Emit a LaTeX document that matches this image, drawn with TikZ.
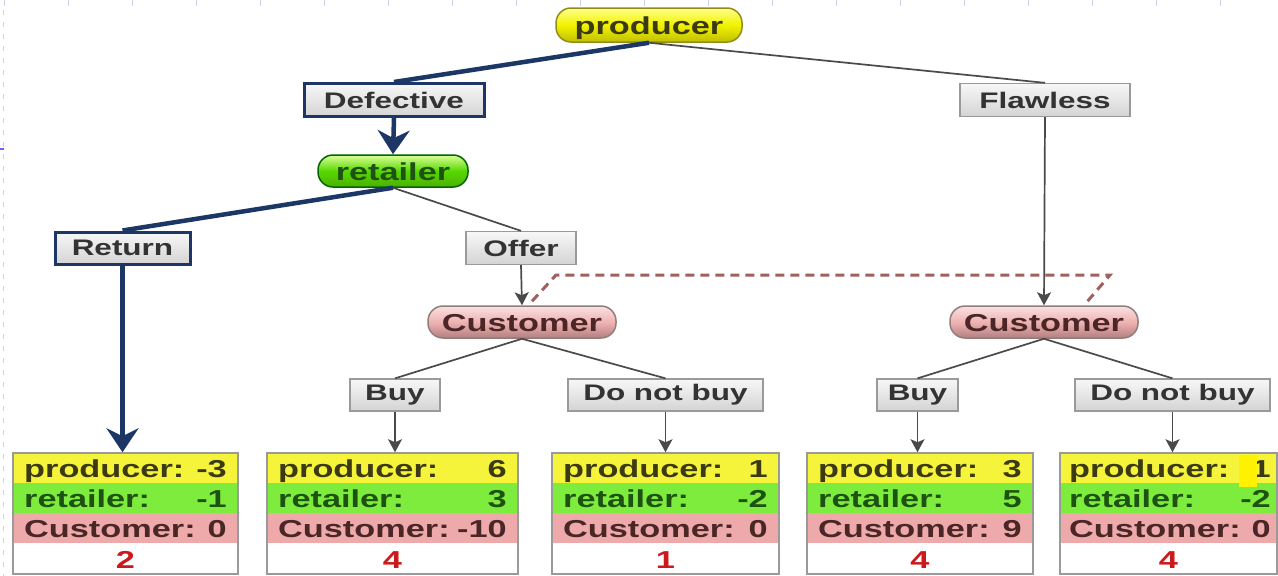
\documentclass[tikz,border=0pt]{standalone}
\usepackage{fontspec}
\setmainfont{Liberation Sans}[FakeStretch=1.4]
\usetikzlibrary{arrows.meta,calc}

\definecolor{navy}{HTML}{1C3766}
\definecolor{edgegray}{HTML}{4A4A4A}
\definecolor{boxline}{HTML}{9A9A9A}
\definecolor{prodrowc}{HTML}{F6F43A}
\definecolor{retrowc}{HTML}{7EEC3C}
\definecolor{custrowc}{HTML}{EEAAAA}
\definecolor{infoset}{HTML}{A0605E}
\definecolor{gridblue}{HTML}{C8D4F4}
\definecolor{prodtext}{HTML}{3B3A14}
\definecolor{rettext}{HTML}{1E5212}
\definecolor{custtext}{HTML}{4A2626}
\definecolor{numred}{HTML}{CC1A1A}

\tikzset{
  pill/.style={rectangle, rounded corners=15pt, minimum height=32pt, inner sep=0pt,
    text height=19pt, text depth=0pt,
    line width=1.5pt, font=\fontsize{24.5}{27}\selectfont\bfseries},
  prodpill/.style={pill, draw=black!20!olive!80!yellow, top color=yellow!45!white,
    bottom color=yellow!75!black, middle color=yellow!90!olive, text=prodtext},
  retpill/.style={pill, draw=green!40!black, top color=green!35!yellow!40!white,
    bottom color=green!55!black!70!yellow, middle color=green!60!yellow!85!black, text=rettext},
  custpill/.style={pill, draw=custtext!60!white, top color=custrowc!35!white,
    bottom color=custrowc!75!black, middle color=custrowc!90!white, text=custtext},
  action/.style={rectangle, draw=boxline, line width=1.3pt, top color=black!3,
    bottom color=black!17, minimum height=33pt, inner sep=0pt,
    font=\fontsize{22.5}{25}\selectfont\bfseries, text=black!80},
  chosen/.style={action, draw=navy, line width=3pt},
  thin/.style={draw=edgegray, line width=1.7pt},
  thinarrow/.style={thin, -{Stealth[length=13pt,width=14pt,inset=3pt]}},
  thick/.style={draw=navy, line width=4.5pt},
  thickarrow/.style={thick, -{Stealth[length=24pt,width=32pt,inset=8pt]}},
  leafframe/.style={rectangle, draw=boxline, line width=1.5pt, minimum height=121pt, inner sep=0pt},
  leaftxt/.style={inner sep=0pt, font=\fontsize{24.5}{27}\selectfont\bfseries},
}

% inner margins of the payoff boxes
\def\lmarg{11}
\def\rmarg{11}

% payoff box: name, centre x, width, producer, retailer, customer, weight
\newcommand\leafbox[7]{%
  \pgfmathsetmacro\lx{#2-#3/2}%
  \pgfmathsetmacro\rx{#2+#3/2}%
  \fill[prodrowc] (\lx,453) rectangle (\rx,483);
  \fill[retrowc] (\lx,483) rectangle (\rx,513);
  \fill[custrowc] (\lx,513) rectangle (\rx,543);
  \node[leafframe, minimum width=#3] (#1) at (#2,513.5) {};
  \node[leaftxt, text=prodtext, anchor=base west] at (\lx+\lmarg,477) {producer:};
  \node[leaftxt, text=prodtext, anchor=base east] (#1p) at (\rx-\rmarg,477) {#4};
  \node[leaftxt, text=rettext, anchor=base west] at (\lx+\lmarg,507) {retailer:};
  \node[leaftxt, text=rettext, anchor=base east] (#1r) at (\rx-\rmarg,507) {#5};
  \node[leaftxt, text=custtext, anchor=base west] at (\lx+\lmarg,537) {Customer:};
  \node[leaftxt, text=custtext, anchor=base east] (#1c) at (\rx-\rmarg,537) {#6};
  \node[leaftxt, text=numred, anchor=base] at (#2,568) {#7};
}

\begin{document}
\begin{tikzpicture}[x=1pt, y=-1pt]
  \fill[white] (0,0) rectangle (1278,576);
  \useasboundingbox (0,0) rectangle (1278,576);

  % faint slide grid along the edges
  \draw[gridblue, line width=1pt, dash pattern=on 5pt off 7pt] (3,10) -- (3,576);
  \foreach \gx in {4,68,...,1230} \draw[gridblue, line width=1pt] (\gx,0) -- (\gx,6);
  \draw[blue!60!white, line width=2pt] (0,149) -- (4,149);

  % decision and chance nodes
  \node[prodpill, minimum width=186pt, minimum height=34pt] (producer) at (649,25) {producer};
  \node[chosen, minimum width=180pt] (defective) at (394,100) {Defective};
  \node[action, minimum width=170pt] (flawless) at (1045,100) {Flawless};
  \node[retpill, minimum width=150pt] (retailer) at (393,171) {retailer};
  \node[chosen, minimum width=135pt, minimum height=32pt] (return) at (122.5,248) {Return};
  \node[action, minimum width=110pt] (offer) at (521,248) {Offer};
  \node[custpill, minimum width=188pt] (custL) at (522,322) {Customer};
  \node[custpill, minimum width=188pt] (custR) at (1044,322) {Customer};
  \node[action, minimum width=90pt, minimum height=32pt] (buyL) at (395,395) {Buy};
  \node[action, minimum width=195pt, minimum height=32pt] (nobuyL) at (665.5,395) {Do not buy};
  \node[action, minimum width=81pt, minimum height=32pt] (buyR) at (917.5,395) {Buy};
  \node[action, minimum width=195pt, minimum height=32pt] (nobuyR) at (1172.5,395) {Do not buy};

  % payoff boxes
  \leafbox{leafA}{125.5}{225}{-3}{-1}{0}{2}
  \leafbox{leafB}{392.5}{251}{6}{3}{-10}{4}
  \leafbox{leafC}{665.5}{227}{1}{-2}{0}{1}
  \leafbox{leafD}{920}{226}{3}{5}{9}{4}
  \def\lmarg{9}\def\rmarg{6}
  \leafbox{leafE}{1168.5}{217}{-1}{-2}{0}{4}
  \fill[yellow] ($(leafEp.base west)+(-1,-22)$) rectangle ($(leafEp.base west)+(17,10)$);

  % information set of the customer
  \draw[infoset, line width=3pt, dash pattern=on 9pt off 6pt]
    (custL.north) ++(10,-4) coordinate (isA) -- (556,275) coordinate (isB)
    -- (1110,275) coordinate (isC) -- (1086,303) coordinate (isD);

  % chosen path
  \draw[thick] (producer.south) -- (defective.north);
  \draw[thickarrow] (defective.south) -- (retailer.north);
  \draw[thick] (retailer.south) -- (return.north);
  \draw[thickarrow] (return.south) -- (return.south |- leafA.north);

  % remaining moves
  \draw[thin] (producer.south) -- (flawless.north);
  \draw[thin] (retailer.south) -- (offer.north);
  \draw[thinarrow] (offer.south) -- (custL.north);
  \draw[thinarrow] (flawless.south) -- (custR.north);
  \draw[thin] (custL.south) -- (buyL.north);
  \draw[thin] (custL.south) -- (nobuyL.north);
  \draw[thin] (custR.south) -- (buyR.north);
  \draw[thin] (custR.south) -- (nobuyR.north);
  \draw[thinarrow] (buyL.south) -- (buyL.south |- leafB.north);
  \draw[thinarrow] (nobuyL.south) -- (nobuyL.south |- leafC.north);
  \draw[thinarrow] (buyR.south) -- (buyR.south |- leafD.north);
  \draw[thinarrow] (nobuyR.south) -- (nobuyR.south |- leafE.north);
\end{tikzpicture}
\end{document}
